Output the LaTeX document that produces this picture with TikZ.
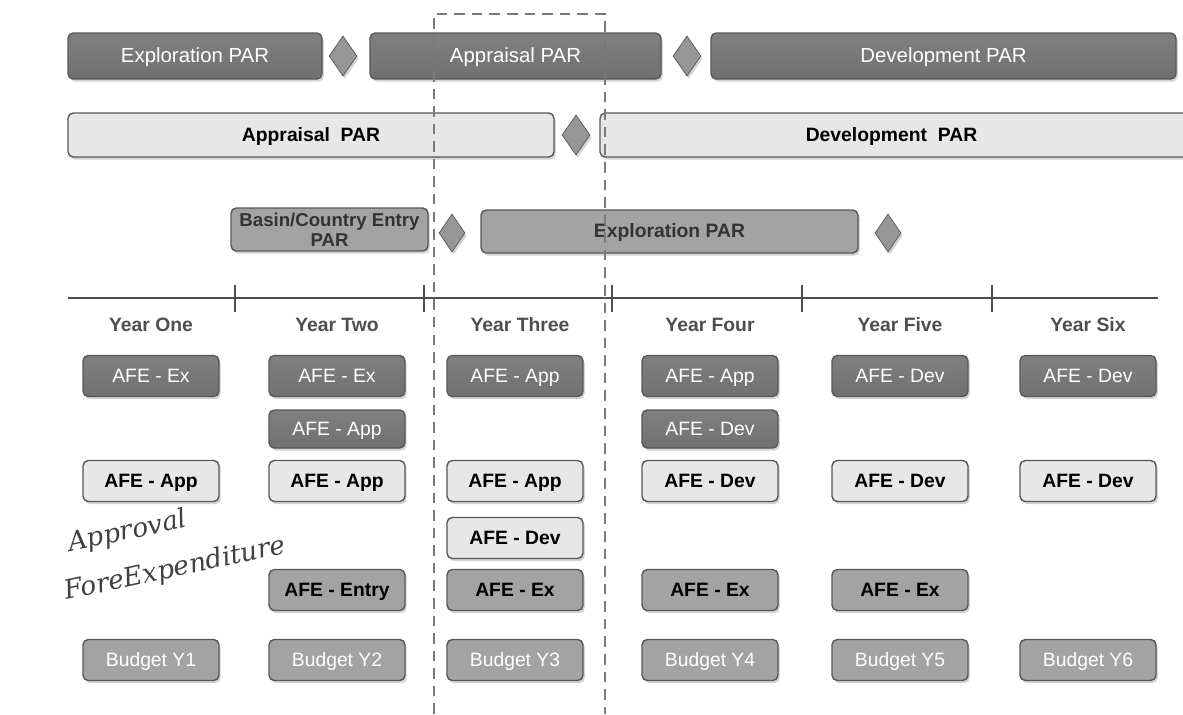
\documentclass[tikz,border=0pt]{standalone}
\usepackage{fontspec}
\setmainfont{Liberation Sans}
\newfontfamily\handfont{DejaVu Serif}
\usepackage{xcolor}
\usetikzlibrary{shapes.geometric,shadows}

\definecolor{bardark}{RGB}{112,112,112}
\definecolor{bardarktop}{RGB}{128,128,128}
\definecolor{barmid}{RGB}{163,163,163}
\definecolor{barlight}{RGB}{231,231,231}
\definecolor{barline}{RGB}{88,88,88}
\definecolor{yeartext}{RGB}{78,78,78}
\definecolor{milestonefill}{RGB}{150,150,150}

\newcommand{\barfont}{\fontsize{11}{13}\selectfont}
\newcommand{\topbarfont}{\fontsize{11.6}{13}\selectfont}

\tikzset{
	boxshadow/.style={drop shadow={opacity=0.35,shadow xshift=1pt,shadow yshift=-1.5pt}},
	centred/.style={text height=1.6ex, text depth=0.3ex},
	darkbar/.style={draw=barline, thick, top color=bardarktop, bottom color=bardark, rounded corners=3pt, boxshadow},
	lightbar/.style={draw=barline, thick, fill=barlight, rounded corners=3pt, boxshadow},
	midbar/.style={draw=barline, thick, fill=barmid, rounded corners=3pt, boxshadow},
	milestone/.style={diamond, draw=barline, fill=milestonefill, inner sep=0pt, minimum width=0.56cm, minimum height=0.8cm, boxshadow},
	afebox/.style={rounded corners=3pt, boxshadow, thick, draw=barline, minimum width=2.72cm, minimum height=0.82cm, inner sep=0pt, centred},
	afedark/.style={afebox, top color=bardarktop, bottom color=bardark, text=white, font=\barfont},
	afelight/.style={afebox, fill=barlight, font=\barfont\bfseries},
	afemid/.style={afebox, fill=barmid, font=\barfont\bfseries},
	budgetbox/.style={afebox, fill=barmid, text=white, font=\barfont},
	yearlabel/.style={font=\barfont\bfseries, text=yeartext},
	handnote/.style={font=\handfont\itshape\fontsize{15}{18}\selectfont, text=black!75, rotate=12, anchor=base west, inner sep=0pt},
}

\begin{document}
\begin{tikzpicture}[x=0.02cm, y=-0.02cm]
	\useasboundingbox (0,0) rectangle (1183,714);

	% PAR bars, top row
	\draw[darkbar] (68,33) rectangle (322,79) node[midway, centred, text=white, font=\topbarfont] (explpar) {Exploration PAR};
	\draw[darkbar] (370,33) rectangle (661,79) node[midway, centred, text=white, font=\topbarfont] (apprpar) {Appraisal PAR};
	\draw[darkbar] (711,33) rectangle (1176,79) node[midway, centred, text=white, font=\topbarfont] (devpar) {Development PAR};
	\node[milestone] (msa) at (343,56) {};
	\node[milestone] (msb) at (687,56) {};

	% PAR bars, second row
	\draw[lightbar] (68,113) rectangle (554,157) node[midway, centred, font=\barfont\bfseries] (apprparb) {Appraisal~~PAR};
	\draw[lightbar] (600,113) rectangle (1190,157) node[midway, centred, xshift=-0.07cm, font=\barfont\bfseries] (devparb) {Development~~PAR};
	\node[milestone] (msc) at (576,135) {};

	% PAR bars, third row
	\draw[midbar] (231,208) rectangle (428,251) node[midway, align=center, text=black!80, font=\fontsize{10.6}{11.2}\selectfont\bfseries] (entrypar) {Basin/Country Entry\\PAR};
	\draw[midbar] (481,210) rectangle (858,253) node[midway, centred, text=black!80, font=\barfont\bfseries] (explparc) {Exploration PAR};
	\node[milestone, minimum width=0.52cm, minimum height=0.76cm] (msd) at (452,233) {};
	\node[milestone, minimum width=0.52cm, minimum height=0.76cm] (mse) at (888,233) {};

	% time line
	\draw[yeartext, line width=1.3pt] (68,298) -- (1158,298);
	\foreach \x in {235,424,612,802,992}
		\draw[yeartext, line width=1.3pt] (\x,285) -- (\x,312);
	\foreach \x/\n/\t in {151/1/One,337/2/Two,520/3/Three,710/4/Four,900/5/Five,1088/6/Six}
		\node[yearlabel] (year\n) at (\x,325) {Year \t};

	% AFE rows
	\node[afedark] (exa1) at (151,376) {AFE - Ex};
	\node[afedark] (exa2) at (337,376) {AFE - Ex};
	\node[afedark] (appa3) at (515,376) {AFE - App};
	\node[afedark] (appa4) at (710,376) {AFE - App};
	\node[afedark] (deva5) at (900,376) {AFE - Dev};
	\node[afedark] (deva6) at (1088,376) {AFE - Dev};
	\node[afedark, minimum height=0.76cm] (appb2) at (337,429) {AFE - App};
	\node[afedark, minimum height=0.76cm] (devb4) at (710,429) {AFE - Dev};

	\node[afelight] (appc1) at (151,481) {AFE - App};
	\node[afelight] (appc2) at (337,481) {AFE - App};
	\node[afelight] (appc3) at (515,481) {AFE - App};
	\node[afelight] (devc4) at (710,481) {AFE - Dev};
	\node[afelight] (devc5) at (900,481) {AFE - Dev};
	\node[afelight] (devc6) at (1088,481) {AFE - Dev};
	\node[afelight] (devd3) at (515,538) {AFE - Dev};

	\node[afemid] (entrye2) at (337,590) {AFE - Entry};
	\node[afemid] (exe3) at (515,590) {AFE - Ex};
	\node[afemid] (exe4) at (710,590) {AFE - Ex};
	\node[afemid] (exe5) at (900,590) {AFE - Ex};

	% budgets
	\foreach \x/\n in {151/1,337/2,515/3,710/4,900/5,1088/6}
		\node[budgetbox] (budget\n) at (\x,660) {Budget Y\n};

	% handwritten note
	\node[handnote] (notea) at (70,552) {Approval};
	\node[handnote] (noteb) at (66,600) {ForeExpenditure};

	% dashed frame round year three
	\draw[barline!80, thick, dash pattern=on 6pt off 4pt] (434,714) -- (434,14) -- (605,14) -- (605,714);
\end{tikzpicture}
\end{document}
